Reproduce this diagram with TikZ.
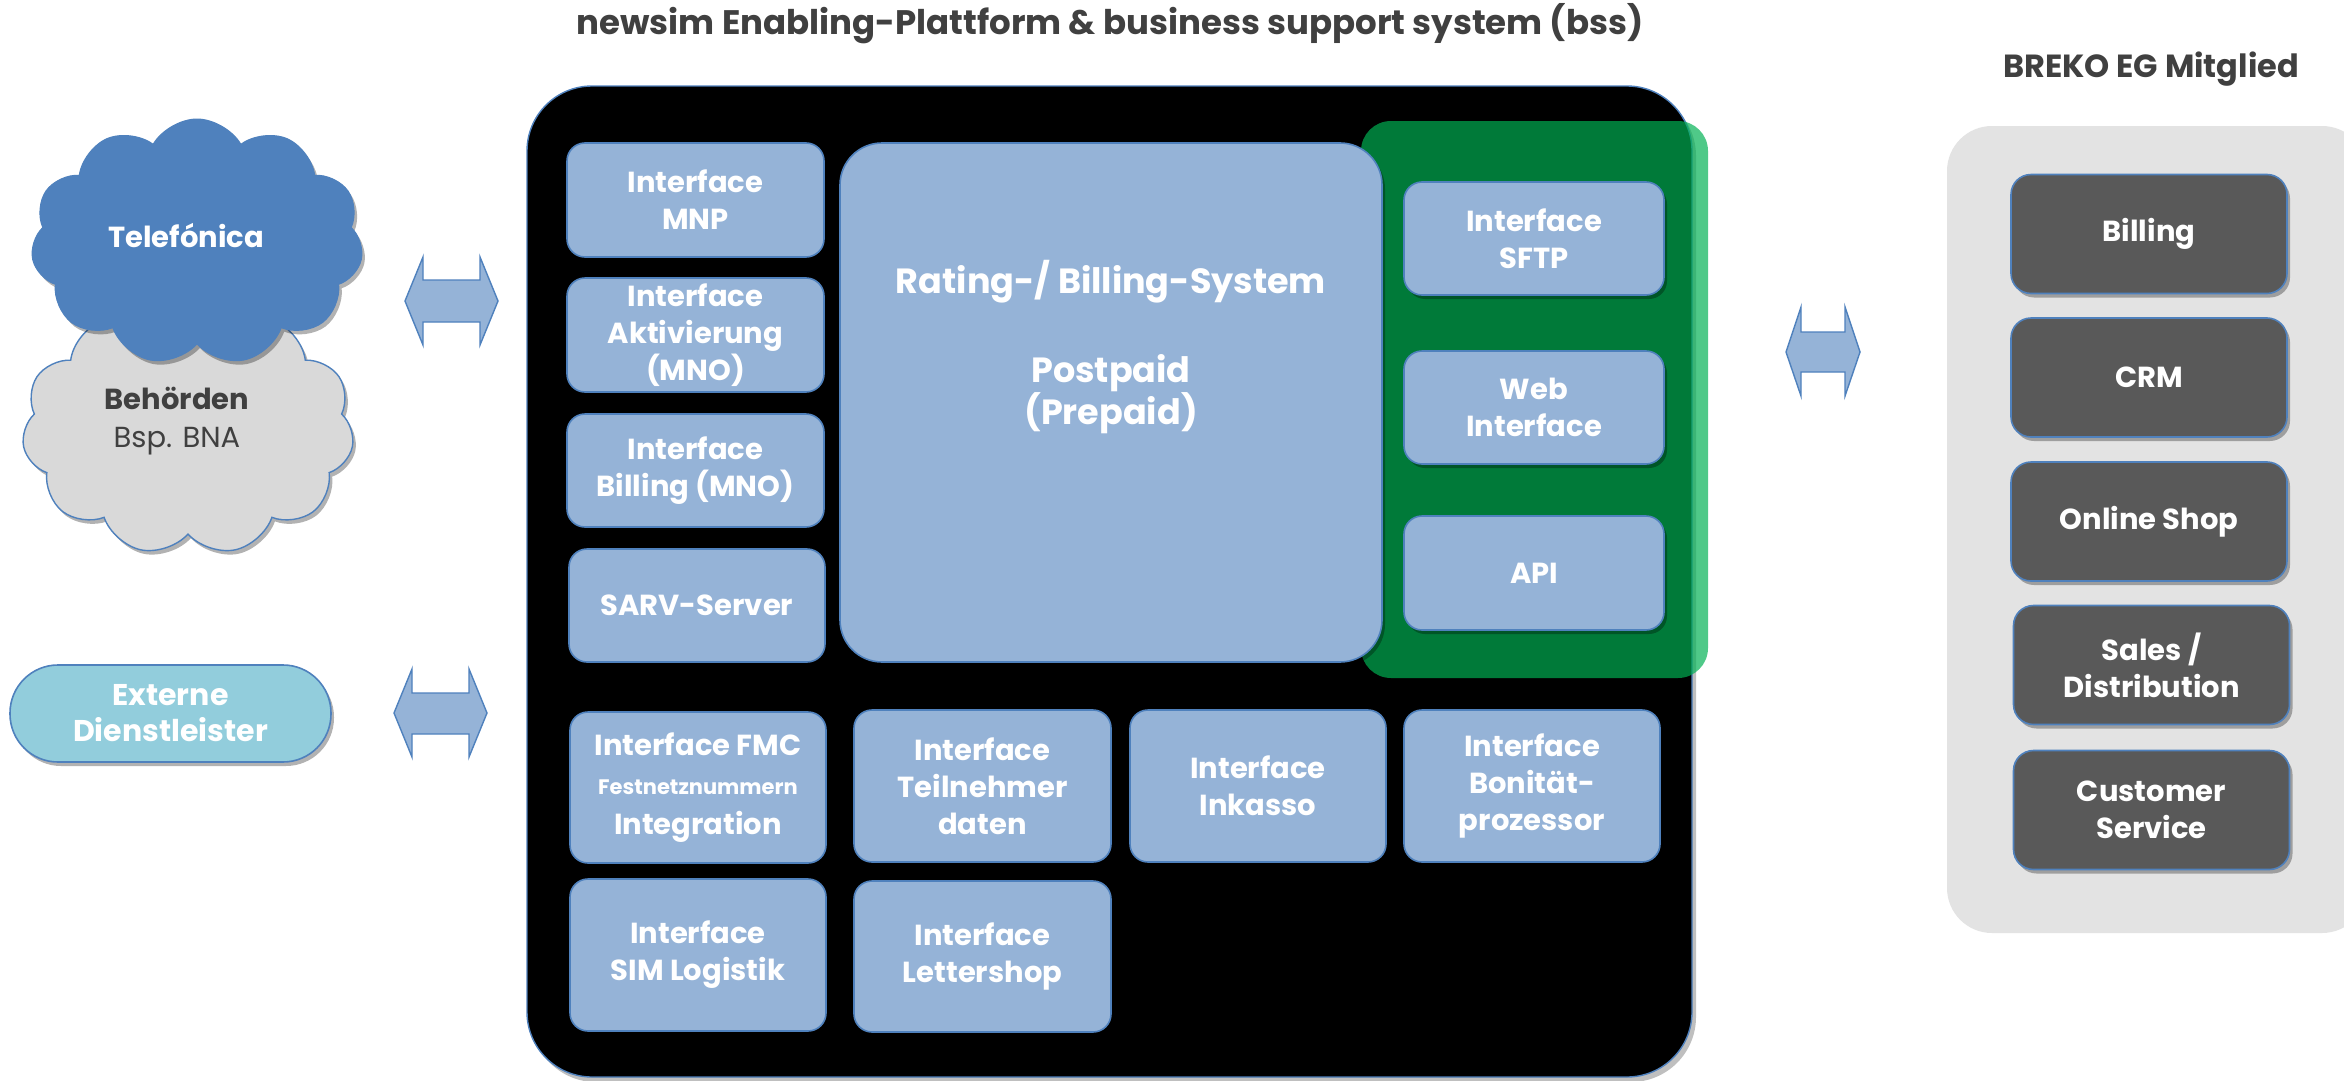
\documentclass[tikz,border=0pt]{standalone}
\usepackage{fontspec}
\setmainfont{Poppins}
\usetikzlibrary{shapes.symbols,shadows}
\definecolor{lblue}{RGB}{149,179,215}
\definecolor{bblue}{RGB}{79,129,189}
\definecolor{cloudgray}{RGB}{217,217,217}
\definecolor{extblue}{RGB}{146,205,220}
\definecolor{txtgray}{RGB}{64,64,64}
\definecolor{panelgray}{RGB}{227,227,227}
\definecolor{darkbox}{RGB}{89,89,89}
\definecolor{greenfill}{RGB}{0,177,84}
\newcommand\myboxfont{\fontsize{29}{37}\selectfont}
\newcommand\mybigfont{\fontsize{35}{42}\selectfont}
\newcommand\mysmallfont{\fontsize{21}{28}\selectfont}
\tikzset{
  myshadow/.style={drop shadow={shadow xshift=3pt,shadow yshift=-4pt,opacity=0.3,fill=black}},
  lbox/.style={draw=bblue, line width=1.6pt, fill=lblue, rounded corners=18pt, text=white,
    font=\bfseries\myboxfont, align=center, inner sep=0pt, myshadow},
  dbox/.style={draw=bblue, line width=1.6pt, fill=darkbox, rounded corners=20pt, text=white,
    font=\bfseries\myboxfont, align=center, inner sep=0pt, minimum width=276, minimum height=119, myshadow},
  blockarrow/.style={draw=bblue, line width=1.4pt, fill=lblue, line join=miter},
  titletext/.style={text=txtgray, font=\bfseries\fontsize{34}{40}\selectfont, inner sep=0pt},
  mycloud/.style={cloud, cloud puffs=11, cloud puff arc=120, inner sep=0pt, myshadow},
}
\begin{document}
\begin{tikzpicture}[x=1pt,y=-1pt]
\useasboundingbox (0,0) rectangle (2344,1081);
\fill[white] (0,0) rectangle (2344,1081);

% titles
\node[titletext] (title) at (1110,24) {newsim Enabling-Plattform \& business support system (bss)};
\node[titletext, font=\bfseries\fontsize{32}{38}\selectfont] (brekotitle) at (2151,69) {BREKO EG Mitglied};

% left side
\node[mycloud, aspect=1.38, draw=bblue, line width=1.4pt, fill=cloudgray,
      minimum width=332, minimum height=252,
      label={[text=txtgray, align=center, font=\myboxfont, xshift=-11pt, yshift=8pt]center:{\bfseries Behörden}\\[1pt]Bsp. BNA}]
      (behoerden) at (188,429) {};
\node[mycloud, aspect=1.34, draw=bblue, line width=1pt, fill=bblue,
      minimum width=332, minimum height=246,
      label={[text=white, font=\bfseries\myboxfont, xshift=-11pt, yshift=6pt]center:Telefónica}]
      (telefonica) at (197,242) {};

\node[draw=bblue, line width=1.6pt, fill=extblue, rounded corners=48pt, minimum width=321,
      minimum height=97, inner sep=0pt, align=center, text=white, myshadow,
      font=\bfseries\fontsize{30}{36}\selectfont] (extern) at (170.5,713.5) {Externe\\Dienstleister};

% block arrows
\draw[blockarrow] (405,301) -- (423,257) -- (423,280) -- (480,280) -- (480,257) -- (498,301)
  -- (480,345) -- (480,322) -- (423,322) -- (423,345) -- cycle;
\draw[blockarrow] (394,713) -- (412,669) -- (412,693) -- (469,693) -- (469,669) -- (487,713)
  -- (469,757) -- (469,734) -- (412,734) -- (412,757) -- cycle;
\draw[blockarrow] (1786,352) -- (1801,307) -- (1801,332) -- (1845,332) -- (1845,307) -- (1860,352)
  -- (1845,396) -- (1845,372) -- (1801,372) -- (1801,396) -- cycle;

% platform
\node[draw=bblue, line width=1.4pt, fill=black, rounded corners=65pt, minimum width=1165,
      minimum height=991, inner sep=0pt,
      drop shadow={shadow xshift=4pt,shadow yshift=-5pt,opacity=0.25,fill=black}] (platform) at (1109.5,581.5) {};
\node[fill=greenfill, fill opacity=0.69, rounded corners=30pt, minimum width=347,
      minimum height=557, inner sep=0pt] (green) at (1534.5,399.5) {};

\node[lbox, minimum width=257, minimum height=114] (mnp) at (695.5,200) {Interface\\MNP};
\node[lbox, minimum width=257, minimum height=114] (akt) at (695.5,335) {Interface\\Aktivierung\\(MNO)};
\node[lbox, minimum width=257, minimum height=113] (bilmno) at (695.5,470.5) {Interface\\Billing (MNO)};
\node[lbox, minimum width=256, minimum height=113] (sarv) at (697,605.5) {SARV-Server};

\node[lbox, rounded corners=42pt, minimum width=542, minimum height=519] (rating) at (1111,402.5) {};
\node[text=white, font=\bfseries\mybigfont, align=center, inner sep=0pt] (ratingtxt) at (1111,347)
  {Rating-/ Billing-System\\[47pt]Postpaid\\(Prepaid)};

\node[lbox, minimum width=260, minimum height=113] (sftp) at (1534,238.5) {Interface\\SFTP};
\node[lbox, minimum width=260, minimum height=113] (web) at (1534,407.5) {Web\\Interface};
\node[lbox, minimum width=260, minimum height=114] (api) at (1534,573) {API};

\node[lbox, minimum width=256, minimum height=151] (fmc) at (698,787.5)
  {Interface FMC\\[2pt]{\mysmallfont Festnetznummern}\\[3pt]Integration};
\node[lbox, minimum width=257, minimum height=152] (teil) at (982.5,786) {Interface\\Teilnehmer\\daten};
\node[lbox, minimum width=256, minimum height=152] (inkasso) at (1258,786) {Interface\\Inkasso};
\node[lbox, minimum width=256, minimum height=152] (bonitaet) at (1532,786) {Interface\\Bonität-\\prozessor};
\node[lbox, minimum width=256, minimum height=152] (simlog) at (698,955) {Interface\\SIM Logistik};
\node[lbox, minimum width=257, minimum height=151] (letter) at (982.5,956.5) {Interface\\Lettershop};

% right panel
\node[fill=panelgray, rounded corners=45pt, minimum width=420, minimum height=807, inner sep=0pt] (panel) at (2157,529.5) {};
\node[dbox] (billing) at (2149,234) {Billing};
\node[dbox] (crm) at (2149,377.5) {CRM};
\node[dbox] (shop) at (2149,521.5) {Online Shop};
\node[dbox] (sales) at (2151.5,665) {Sales /\\Distribution};
\node[dbox] (cust) at (2151.5,810) {Customer\\Service};
\end{tikzpicture}
\end{document}
